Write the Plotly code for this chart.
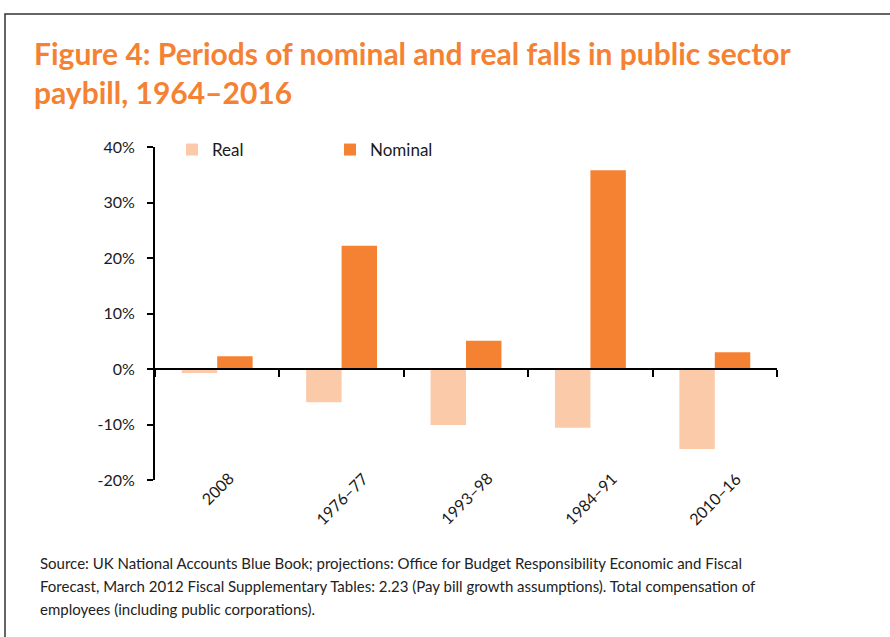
import plotly.graph_objects as go

categories = ["2008", "1976\u201377", "1993\u201398", "1984\u201391", "2010\u201316"]
real = [-0.7, -6.0, -10.1, -10.6, -14.4]
nominal = [2.3, 22.2, 5.1, 35.8, 3.0]
y_ticks = [-20, -10, 0, 10, 20, 30, 40]
y_tick_text = [f"{v}%" for v in y_ticks]

title = "Figure 4: Periods of nominal and real falls in public sector<br>paybill, 1964\u20132016"
source_lines = [
    "Source: UK National Accounts Blue Book; projections: Office for Budget Responsibility Economic and Fiscal",
    "Forecast, March 2012 Fiscal Supplementary Tables: 2.23 (Pay bill growth assumptions). Total compensation of",
    "employees (including public corporations).",
]

ORANGE = "#F58233"
PEACH = "#FBCBA9"
FONT = "Lato"

fig = go.Figure()
fig.add_trace(go.Bar(name="Real", x=categories, y=real, marker=dict(color=PEACH, line=dict(width=0))))
fig.add_trace(go.Bar(name="Nominal", x=categories, y=nominal, marker=dict(color=ORANGE, line=dict(width=0))))

L, R, T, B = 155, 113, 147, 157
ymin, ymax = -20, 40
zero_pos = (0 - ymin) / (ymax - ymin)
W, H = 890, 637
pw = W - L - R
ph = H - T - B


def px_y(y):
    return (H - B - y) / ph


def px_x(x):
    return (x - L) / pw


fig.update_layout(
    width=W, height=H,
    margin=dict(l=L, r=R, t=T, b=B, autoexpand=False),
    paper_bgcolor="white", plot_bgcolor="white",
    barmode="group", bargap=0.43, bargroupgap=0,
    font=dict(family=FONT, color="#1a1a1a", size=16),
    showlegend=True,
    legend=dict(orientation="h", x=px_x(172), y=px_y(150), xanchor="left", yanchor="middle",
                entrywidth=113, entrywidthmode="pixels", font=dict(size=17, family=FONT),
                bgcolor="rgba(0,0,0,0)", itemwidth=30),
    xaxis=dict(anchor="free", position=zero_pos, domain=[0, 1], showline=True, linecolor="black",
               linewidth=2, ticks="outside", tickson="boundaries", ticklen=7, tickwidth=2,
               tickcolor="black", showticklabels=False, showgrid=False, zeroline=False,
               type="category", range=[-0.5, len(categories) - 0.5]),
    yaxis=dict(range=[ymin, ymax], tickmode="array", tickvals=y_ticks, ticktext=y_tick_text,
               showline=True, linecolor="black", linewidth=2, ticks="outside", ticklen=6, tickwidth=2,
               tickcolor="black", showgrid=False, zeroline=False, ticklabelstandoff=9,
               tickfont=dict(size=16, family=FONT)),
)

# category labels (rotated, centred on each category)
for i, c in enumerate(categories):
    fig.add_annotation(text=c, x=i, xref="x", y=px_y(466), yref="paper",
                       xanchor="center", yanchor="top", textangle=-45, showarrow=False,
                       font=dict(family=FONT, size=16, color="#1a1a1a"))

# title
fig.add_annotation(text=title, xref="paper", yref="paper",
                   x=px_x(32), y=px_y(33), xanchor="left", yanchor="top",
                   showarrow=False, align="left",
                   font=dict(family=FONT, size=30, color=ORANGE, weight="bold"))
# source
for i, line in enumerate(source_lines):
    fig.add_annotation(text=line, xref="paper", yref="paper",
                       x=px_x(38), y=px_y(563 + 23 * i), xanchor="left", yanchor="middle",
                       showarrow=False, align="left",
                       font=dict(family=FONT, size=15, color="#222"))
# frame
fig.add_shape(type="rect", xref="paper", yref="paper",
              x0=px_x(5), y0=-2, x1=1.5, y1=px_y(14),
              line=dict(color="#333", width=1.5), fillcolor="rgba(0,0,0,0)", layer="below")

fig.write_html("out.html", config={"displayModeBar": False},
               post_script="document.body.style.margin='0px';")
